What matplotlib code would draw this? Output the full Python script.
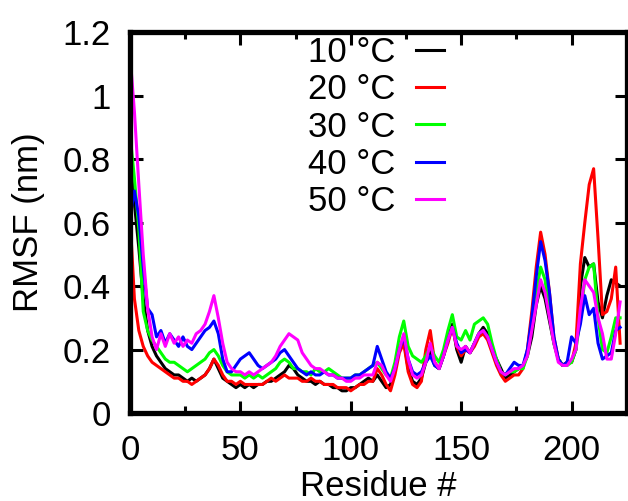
import numpy as np
import matplotlib
matplotlib.use("Agg")
import matplotlib.pyplot as plt

##### Datos: RMSF por residuo (cada 2 residuos, 0..222)
residuos = list(range(0, 224, 2))

rmsf_10 = [0.80, 0.66, 0.52, 0.36, 0.26, 0.21, 0.18, 0.16, 0.14, 0.13,
           0.12, 0.12, 0.11, 0.10, 0.11, 0.10, 0.11, 0.12, 0.14, 0.17,
           0.14, 0.11, 0.10, 0.09, 0.08, 0.09, 0.08, 0.09, 0.08, 0.09,
           0.09, 0.10, 0.10, 0.11, 0.12, 0.13, 0.15, 0.14, 0.12, 0.11,
           0.10, 0.10, 0.09, 0.10, 0.09, 0.09, 0.08, 0.08, 0.07, 0.07,
           0.08, 0.08, 0.09, 0.10, 0.11, 0.10, 0.12, 0.10, 0.08, 0.09,
           0.14, 0.20, 0.23, 0.14, 0.10, 0.09, 0.11, 0.16, 0.20, 0.15,
           0.14, 0.18, 0.24, 0.28, 0.20, 0.16, 0.21, 0.19, 0.22, 0.25,
           0.27, 0.25, 0.20, 0.17, 0.14, 0.11, 0.12, 0.13, 0.14, 0.15,
           0.18, 0.24, 0.34, 0.40, 0.36, 0.29, 0.22, 0.17, 0.15, 0.16,
           0.16, 0.20, 0.40, 0.49, 0.46, 0.47, 0.35, 0.30, 0.37, 0.42,
           0.41, 0.40]

rmsf_20 = [0.62, 0.36, 0.26, 0.21, 0.18, 0.16, 0.15, 0.14, 0.13, 0.12,
           0.11, 0.11, 0.10, 0.10, 0.09, 0.10, 0.11, 0.12, 0.14, 0.17,
           0.15, 0.12, 0.10, 0.10, 0.09, 0.10, 0.09, 0.09, 0.09, 0.09,
           0.09, 0.10, 0.11, 0.10, 0.11, 0.12, 0.11, 0.11, 0.11, 0.10,
           0.10, 0.11, 0.10, 0.10, 0.09, 0.09, 0.09, 0.08, 0.08, 0.08,
           0.07, 0.08, 0.09, 0.09, 0.10, 0.10, 0.14, 0.12, 0.09, 0.07,
           0.12, 0.19, 0.22, 0.13, 0.09, 0.08, 0.10, 0.20, 0.26, 0.16,
           0.14, 0.18, 0.22, 0.27, 0.21, 0.18, 0.20, 0.19, 0.21, 0.24,
           0.25, 0.23, 0.19, 0.15, 0.12, 0.10, 0.11, 0.12, 0.12, 0.14,
           0.20, 0.32, 0.46, 0.57, 0.50, 0.38, 0.24, 0.17, 0.15, 0.16,
           0.16, 0.22, 0.47, 0.60, 0.72, 0.77, 0.55, 0.31, 0.32, 0.36,
           0.46, 0.22]

rmsf_30 = [0.88, 0.74, 0.58, 0.32, 0.26, 0.23, 0.21, 0.19, 0.17, 0.16,
           0.16, 0.15, 0.14, 0.13, 0.14, 0.15, 0.16, 0.17, 0.19, 0.20,
           0.18, 0.15, 0.13, 0.12, 0.12, 0.12, 0.11, 0.12, 0.11, 0.12,
           0.11, 0.12, 0.13, 0.14, 0.16, 0.17, 0.16, 0.14, 0.14, 0.13,
           0.13, 0.12, 0.14, 0.13, 0.13, 0.14, 0.13, 0.12, 0.11, 0.11,
           0.11, 0.12, 0.12, 0.13, 0.14, 0.15, 0.16, 0.14, 0.12, 0.11,
           0.16, 0.24, 0.29, 0.21, 0.18, 0.17, 0.16, 0.18, 0.21, 0.18,
           0.16, 0.20, 0.26, 0.31, 0.24, 0.23, 0.26, 0.23, 0.28, 0.29,
           0.30, 0.28, 0.22, 0.17, 0.13, 0.12, 0.13, 0.13, 0.14, 0.14,
           0.18, 0.28, 0.38, 0.46, 0.42, 0.31, 0.22, 0.17, 0.15, 0.15,
           0.16, 0.20, 0.30, 0.42, 0.46, 0.47, 0.30, 0.20, 0.19, 0.24,
           0.30, 0.30]

rmsf_40 = [0.62, 0.70, 0.62, 0.46, 0.33, 0.31, 0.24, 0.26, 0.22, 0.25,
           0.23, 0.21, 0.24, 0.21, 0.20, 0.22, 0.24, 0.26, 0.27, 0.29,
           0.25, 0.17, 0.13, 0.13, 0.15, 0.17, 0.18, 0.19, 0.17, 0.15,
           0.14, 0.15, 0.16, 0.17, 0.19, 0.20, 0.18, 0.16, 0.14, 0.13,
           0.12, 0.13, 0.12, 0.12, 0.13, 0.12, 0.12, 0.11, 0.11, 0.11,
           0.11, 0.12, 0.12, 0.13, 0.14, 0.15, 0.21, 0.17, 0.13, 0.11,
           0.14, 0.20, 0.24, 0.17, 0.13, 0.12, 0.13, 0.16, 0.18, 0.15,
           0.14, 0.18, 0.23, 0.27, 0.22, 0.19, 0.20, 0.19, 0.22, 0.25,
           0.26, 0.24, 0.20, 0.16, 0.13, 0.12, 0.14, 0.16, 0.15, 0.15,
           0.20, 0.30, 0.43, 0.54, 0.48, 0.38, 0.24, 0.17, 0.15, 0.16,
           0.24, 0.22, 0.28, 0.37, 0.31, 0.33, 0.22, 0.17, 0.18, 0.19,
           0.26, 0.27]

rmsf_50 = [1.13, 0.95, 0.72, 0.50, 0.33, 0.24, 0.20, 0.25, 0.21, 0.25,
           0.22, 0.24, 0.21, 0.23, 0.22, 0.25, 0.26, 0.28, 0.32, 0.37,
           0.30, 0.22, 0.16, 0.14, 0.13, 0.13, 0.12, 0.13, 0.12, 0.13,
           0.14, 0.15, 0.16, 0.18, 0.21, 0.23, 0.25, 0.24, 0.23, 0.19,
           0.17, 0.15, 0.14, 0.14, 0.13, 0.12, 0.12, 0.11, 0.11, 0.10,
           0.10, 0.11, 0.11, 0.12, 0.12, 0.12, 0.16, 0.15, 0.12, 0.10,
           0.14, 0.20, 0.25, 0.17, 0.12, 0.11, 0.12, 0.16, 0.22, 0.16,
           0.14, 0.18, 0.23, 0.27, 0.21, 0.20, 0.21, 0.19, 0.22, 0.25,
           0.26, 0.24, 0.20, 0.16, 0.13, 0.12, 0.13, 0.14, 0.14, 0.15,
           0.18, 0.26, 0.34, 0.42, 0.38, 0.30, 0.22, 0.16, 0.15, 0.15,
           0.17, 0.20, 0.33, 0.42, 0.40, 0.38, 0.30, 0.25, 0.17, 0.17,
           0.25, 0.35]

etiquetas = ['10 °C', '20 °C', '30 °C', '40 °C', '50 °C']
colores = ['black', '#ff0000', '#00ff00', '#0000ff', '#ff00ff']

plt.rcParams['font.family'] = ['Liberation Sans', 'DejaVu Sans']
plt.rcParams['font.size'] = 25

fig = plt.figure(figsize=(6.28, 5.01), dpi=100)
ax = fig.add_axes([0.207, 0.1756, 0.791, 0.76])

series = [rmsf_10, rmsf_20, rmsf_30, rmsf_40, rmsf_50]
for valores, etq, col in zip(series, etiquetas, colores):
    ax.plot(residuos, valores, color=col, lw=2.2, label=etq)

ax.set_xlim(0, 224)
ax.set_ylim(0, 1.2)
ax.set_xticks([0, 50, 100, 150, 200])
ax.set_xticks([25, 75, 125, 175, 225], minor=True)
ax.set_yticks([0, 0.2, 0.4, 0.6, 0.8, 1.0, 1.2])
ax.set_yticklabels(['0', '0.2', '0.4', '0.6', '0.8', '1', '1.2'])

for s in ax.spines.values():
    s.set_linewidth(3.8)
ax.tick_params(which='major', direction='in', length=9, width=2.2,
               top=True, right=True, labelsize=25)
ax.tick_params(which='minor', direction='in', length=5, width=2.2,
               top=True, right=True)
ax.tick_params(axis='x', which='major', pad=15)
ax.tick_params(axis='y', which='major', pad=14)

ax.set_xlabel('Residue #', fontsize=25)
ax.set_ylabel('RMSF (nm)', fontsize=25)
ax.xaxis.set_label_coords(0.5, -0.15)
ax.yaxis.set_label_coords(-0.172, 0.5)

ax.legend(loc='upper left', bbox_to_anchor=(0.33, 1.026), frameon=False,
          markerfirst=False, handlelength=0.8, handletextpad=0.6,
          labelspacing=0.12, borderaxespad=0.0, fontsize=25)

fig.savefig('out.png', dpi=100)
